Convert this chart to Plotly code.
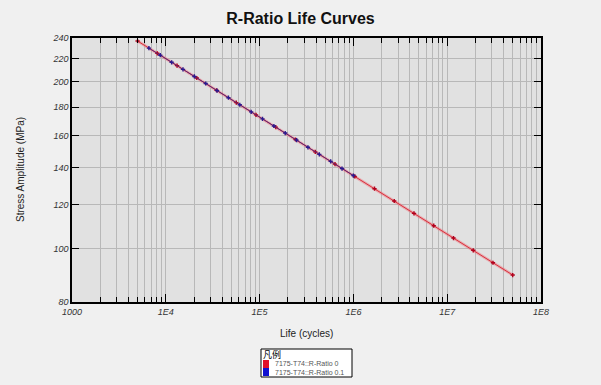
import plotly.graph_objects as go
import math

# ---- data ----
life_r0 = [5000, 8120, 13180, 21400, 34750, 56430, 91620, 148800, 241500, 392200,
           636800, 1034000, 1679000, 2726000, 4426000, 7187000, 11670000, 18950000,
           30760000, 49950000]
stress_r0 = [237.0, 225.2, 213.9, 203.2, 193.1, 183.4, 174.3, 165.6, 157.3, 149.4,
             142.0, 134.9, 128.2, 121.8, 115.7, 109.9, 104.4, 99.2, 94.2, 89.5]

life_r01 = [6607, 8733, 11540, 15250, 20160, 26640, 35210, 46530, 61500, 81280,
            107400, 142000, 187600, 248000, 327700, 433100, 572300, 756400, 1000000]
stress_r01 = [230.1, 223.4, 216.9, 210.6, 204.5, 198.6, 192.8, 187.2, 181.8, 176.5,
              171.4, 166.4, 161.6, 156.9, 152.3, 147.9, 143.6, 139.4, 135.4]

x_tickvals = [1000, 1e4, 1e5, 1e6, 1e7, 1e8]
x_ticktext = ["1000", "1E4", "1E5", "1E6", "1E7", "1E8"]
y_tickvals = [80, 100, 120, 140, 160, 180, 200, 220, 240]
y_ticktext = ["80", "100", "120", "140", "160", "180", "200", "220", "240"]

series_names = ["7175-T74::R-Ratio 0", "7175-T74::R-Ratio 0.1"]
series_colors = ["#e0102a", "#1010d0"]

fig = go.Figure()
fig.add_trace(go.Scatter(
    x=life_r0, y=stress_r0, mode="lines", name=series_names[0],
    line=dict(color="rgba(240,120,130,0.5)", width=3), hoverinfo="skip", showlegend=False))
fig.add_trace(go.Scatter(
    x=life_r0, y=stress_r0, mode="lines+markers", name=series_names[0],
    line=dict(color="#d8303c", width=1),
    marker=dict(symbol="cross", size=3.5, color="#b0001c", line=dict(width=0)), showlegend=False))
fig.add_trace(go.Scatter(
    x=life_r01, y=stress_r01, mode="lines+markers", name=series_names[1],
    line=dict(color="#5a2a78", width=1),
    marker=dict(symbol="cross", size=3.5, color="#2a1a90", line=dict(width=0)), showlegend=False))

font = "Liberation Sans, Arial, sans-serif"

fig.update_layout(
    width=601, height=385,
    margin=dict(l=72, r=60, t=38, b=83),
    paper_bgcolor="#f0f0f0",
    plot_bgcolor="#e1e1e1",
    font=dict(family=font, size=9, color="#333333"),
    title=dict(text="<b>R-Ratio Life Curves</b>", x=0.5, xanchor="center",
               y=1 - 18 / 385, yanchor="middle",
               font=dict(family=font, size=16, color="#111111")),
    xaxis=dict(
        type="log", range=[3, 8],
        tickmode="array", tickvals=x_tickvals, ticktext=x_ticktext,
        ticks="inside", ticklen=8, tickcolor="black", tickwidth=1,
        showline=True, linecolor="black", linewidth=1.5, mirror="ticks",
        showgrid=True, gridcolor="#b8b8b8", gridwidth=1,
        minor=dict(dtick="D1", ticks="inside", ticklen=5, tickcolor="black",
                   showgrid=True, gridcolor="#b8b8b8", gridwidth=1),
        tickfont=dict(family=font, size=9, color="#333333", style="italic"),
        zeroline=False,
    ),
    yaxis=dict(
        type="log", range=[math.log10(80), math.log10(240)],
        tickmode="array", tickvals=y_tickvals, ticktext=y_ticktext,
        ticks="inside", ticklen=7, tickcolor="black", tickwidth=1,
        showline=True, linecolor="black", linewidth=1.5, mirror="ticks",
        showgrid=True, gridcolor="#b8b8b8", gridwidth=1,
        tickfont=dict(family=font, size=9, color="#333333", style="italic"),
        zeroline=False,
    ),
    showlegend=False,
)

# axis titles
fig.add_annotation(text="Life (cycles)", xref="paper", yref="paper",
                   x=0.5, y=-31 / 264, xanchor="center", yanchor="middle",
                   showarrow=False, font=dict(family=font, size=10, color="#222222"))
fig.add_annotation(text="Stress Amplitude (MPa)", xref="paper", yref="paper",
                   x=-52 / 469, y=0.5, xanchor="center", yanchor="middle", textangle=-90,
                   showarrow=False, font=dict(family=font, size=10, color="#222222"))

# legend box (drawn in paper coordinates)
def px_x(px):
    return (px - 72) / 469.0

def px_y(py):
    return (302 - py) / 264.0

fig.add_shape(type="rect", xref="paper", yref="paper",
              x0=px_x(261), x1=px_x(352), y0=px_y(377), y1=px_y(349),
              line=dict(color="black", width=1), fillcolor="#ffffff", layer="above")
fig.add_annotation(text="凡例", xref="paper", yref="paper", x=px_x(262), y=px_y(354.5),
                   xanchor="left", yanchor="middle", showarrow=False, borderpad=0,
                   font=dict(family="Noto Sans CJK SC", size=9, color="#000000"))
for i, col in enumerate(series_colors):
    yc = 364 + i * 8
    fig.add_shape(type="rect", xref="paper", yref="paper",
                  x0=px_x(263), x1=px_x(269), y0=px_y(yc + 4), y1=px_y(yc - 4),
                  line=dict(width=0), fillcolor=col, layer="above")
fig.add_annotation(text="<br>".join(series_names), xref="paper", yref="paper",
                   x=px_x(274), y=px_y(368), xanchor="left", yanchor="middle",
                   align="left", showarrow=False, borderpad=0,
                   font=dict(family=font, size=7, color="#555555"))

fig.write_html("out.html", config={"displayModeBar": False},
               post_script="document.body.style.margin='0';document.body.style.overflow='hidden';")
